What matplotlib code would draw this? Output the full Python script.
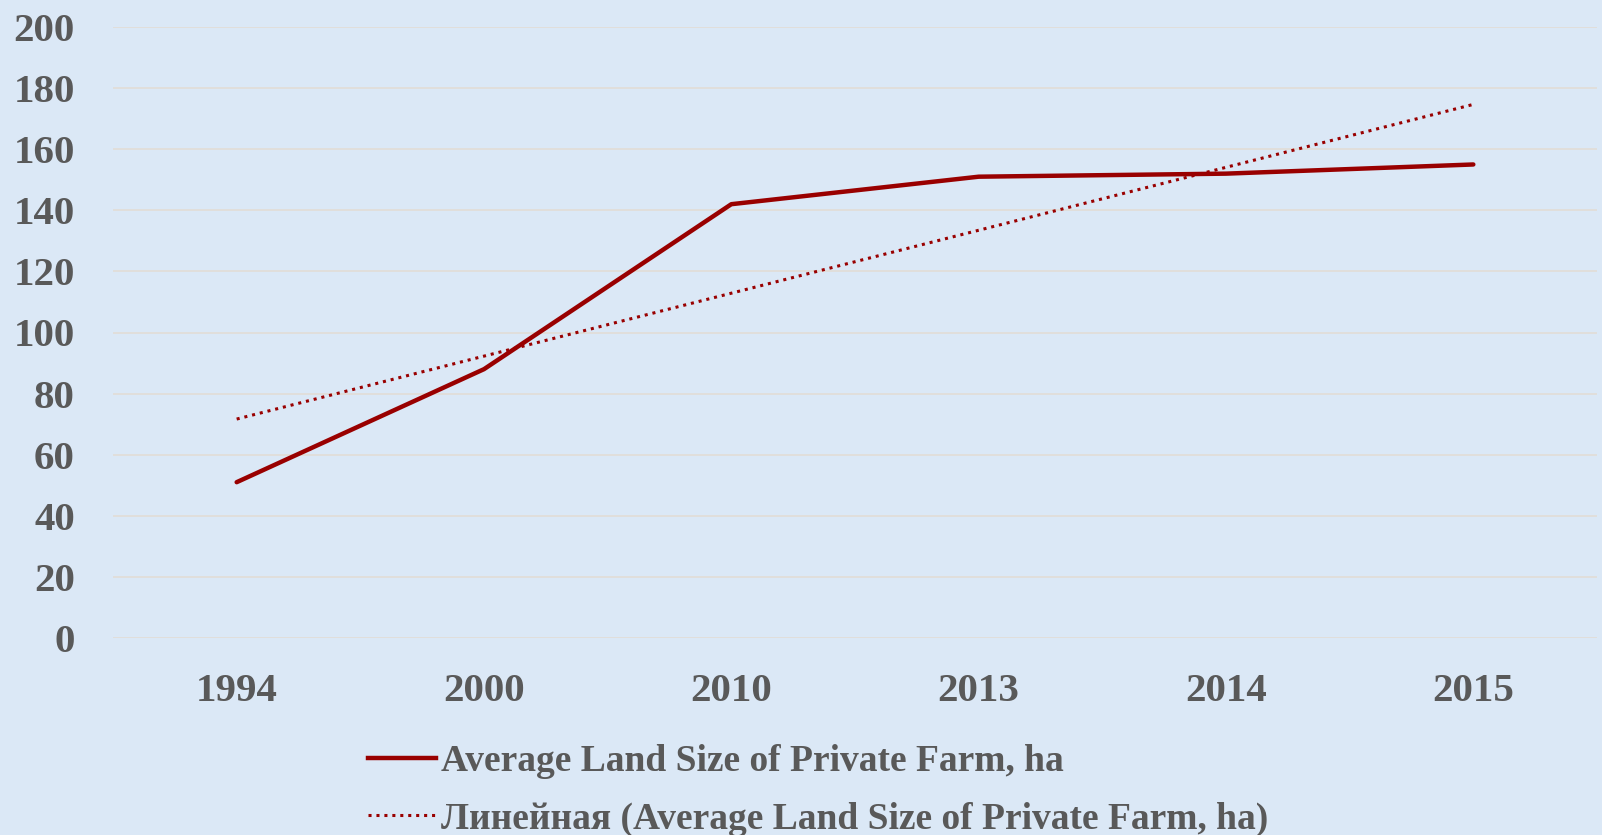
import numpy as np
import matplotlib.pyplot as plt
from matplotlib.lines import Line2D

years = ['1994', '2000', '2010', '2013', '2014', '2015']
land_size = [51, 88, 142, 151, 152, 155]
series_name = 'Average Land Size of Private Farm, ha'
trend_name = 'Линейная (Average Land Size of Private Farm, ha)'

bg = '#dbe8f6'
red = '#990000'
txt = '#595959'

plt.rcParams['font.family'] = ['Liberation Serif', 'DejaVu Serif']
plt.rcParams['font.weight'] = 'bold'

fig = plt.figure(figsize=(16.02, 8.35), dpi=100, facecolor=bg)
ax = fig.add_axes([113/1602, 1-638/835, (1597-113)/1602, (638-27)/835])
ax.set_facecolor(bg)

x = np.arange(len(years))
ax.plot(x, land_size, color=red, lw=3.2, solid_capstyle='round', zorder=3)

# linear trend, same as excel's "Линейная"
k, b = np.polyfit(x + 1, land_size, 1)
ax.plot(x, k*(x + 1) + b, color=red, lw=2.2, linestyle=(0, (1, 1.6)), zorder=3)

ax.set_xlim(-0.5, len(years) - 0.5)
ax.set_ylim(0, 200)
ax.set_yticks(range(0, 201, 20))
ax.set_xticks(x)
ax.set_xticklabels(years)
ax.grid(axis='y', color='#e2ddd6', lw=1.2)
ax.set_axisbelow(True)
for s in ax.spines.values():
    s.set_visible(False)
ax.tick_params(length=0, labelsize=29.5, labelcolor=txt)
ax.tick_params(axis='x', pad=25)
ax.tick_params(axis='y', pad=27.5)

handles = [Line2D([], [], color=red, lw=3.2),
           Line2D([], [], color=red, lw=2.2, linestyle=(0, (1, 1.6)))]
fig.legend(handles, [series_name, trend_name], loc='center left',
           bbox_to_anchor=(368/1602, 1-790.5/835), frameon=False,
           fontsize=27, labelcolor=txt, handlelength=1.8, handletextpad=0.15,
           labelspacing=0.59, borderpad=0, borderaxespad=0)

plt.savefig('out.png', dpi=100, facecolor=bg)
